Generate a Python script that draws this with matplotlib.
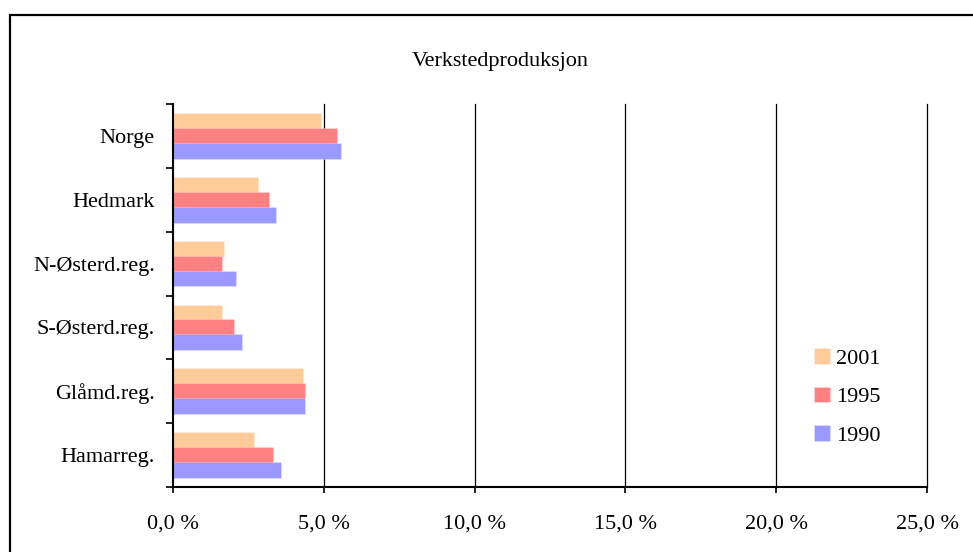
import matplotlib
matplotlib.use("Agg")
import matplotlib.pyplot as plt
import matplotlib.patches as mpatches
import numpy as np

plt.rcParams['font.family'] = ['Liberation Serif', 'DejaVu Serif']

regions = ["Norge", "Hedmark", "N-Østerd.reg.", "S-Østerd.reg.", "Glåmd.reg.", "Hamarreg."]
years = ["2001", "1995", "1990"]
v2001 = [4.9, 2.82, 1.69, 1.62, 4.3, 2.7]
v1995 = [5.43, 3.17, 1.63, 2.03, 4.37, 3.3]
v1990 = [5.57, 3.43, 2.1, 2.3, 4.37, 3.57]
colors = ["#FFCC99", "#FF8080", "#9999FF"]
xticks = [0, 5, 10, 15, 20, 25]
xlabels = ["0,0 %", "5,0 %", "10,0 %", "15,0 %", "20,0 %", "25,0 %"]
title = "Verkstedproduksjon"

W, H = 973, 552
fig = plt.figure(figsize=(W / 100, H / 100), dpi=100)
ax = fig.add_axes([173 / W, 1 - 487 / H, 754 / W, 383 / H])

pos = np.arange(len(regions))
offsets = [-0.234, 0.0, 0.234]
series = [v2001, v1995, v1990]
for k, (vals, col, lab) in enumerate(zip(series, colors, years)):
    ax.barh(pos + offsets[k], vals, height=0.25, color=col, label=lab,
            edgecolor=(1, 1, 1, 0.3), linewidth=0.6, zorder=2 + k)

ax.set_xlim(0, 25)
ax.set_ylim(len(regions) - 0.5, -0.5)

ax.set_xticks(xticks)
ax.set_xticklabels(xlabels, fontsize=16)
ax.tick_params(axis='x', direction='out', length=4.5, width=1.2, pad=15.5)

ax.set_yticks(pos)
ax.set_yticklabels(regions, fontsize=16)
ax.set_yticks(np.arange(len(regions) + 1) - 0.5, minor=True)
ax.tick_params(axis='y', which='major', length=0, pad=13)
ax.tick_params(axis='y', which='minor', direction='out', length=5, width=1.2)

for x in xticks[1:]:
    ax.axvline(x, color='black', linewidth=0.9, zorder=1, clip_on=False)

for s in ['top', 'right']:
    ax.spines[s].set_visible(False)
ax.spines['left'].set_linewidth(1.5)
ax.spines['bottom'].set_linewidth(1.5)
ax.spines['left'].set_zorder(6)
ax.spines['bottom'].set_zorder(6)

fig.text(500 / W, 1 - 61.5 / H, title, fontsize=16, ha='center', va='center')

leg = ax.legend(loc='center left', bbox_to_anchor=(814 / W, 1 - 397 / H),
                bbox_transform=fig.transFigure, frameon=False, fontsize=16,
                handlelength=0.7, handleheight=0.7, handletextpad=0.3,
                labelspacing=0.8, borderpad=0, borderaxespad=0)

frame = mpatches.Rectangle((9.5 / W, -0.2), 1.2, 1.2 - 14.5 / H,
                           transform=fig.transFigure, fill=False,
                           edgecolor='black', linewidth=1.6, clip_on=False)
fig.patches.append(frame)

fig.savefig("out.png", dpi=100)
